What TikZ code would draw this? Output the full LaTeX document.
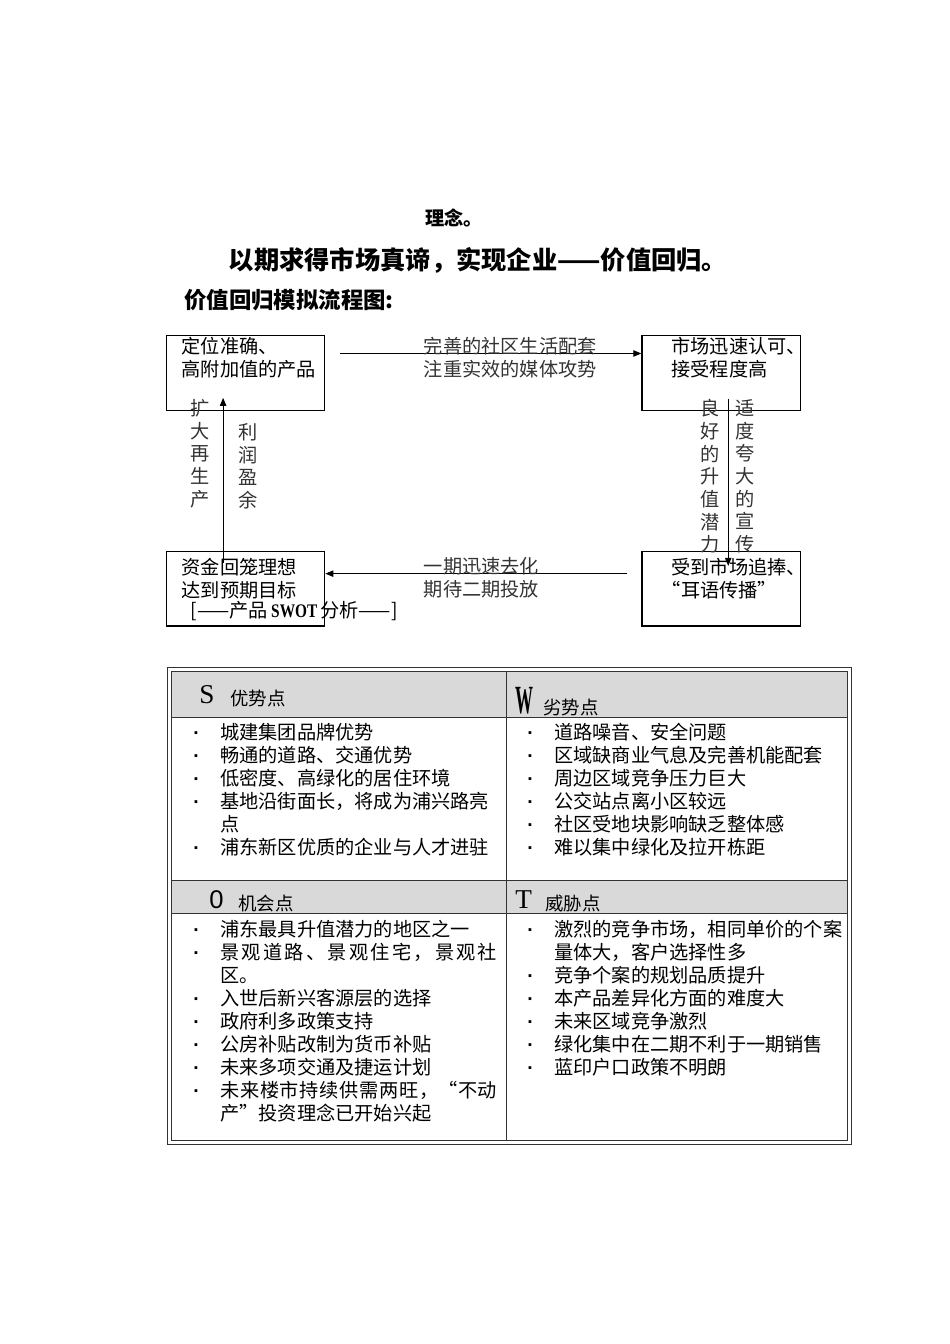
\documentclass[tikz,border=0pt]{standalone}
\usepackage{fontspec}
\usepackage{graphicx}
\setmainfont{Liberation Serif}
\newfontfamily\cjk{Noto Sans CJK SC}
\newfontfamily\latsans{Liberation Sans}
\usetikzlibrary{arrows.meta,positioning}
% bullet and hanging indent of the SWOT lists
\newcommand{\bul}{\makebox[16.9pt][l]{{\latsans\bfseries ·}}}
\newcommand{\ind}{\hspace*{16.9pt}}

\begin{document}
\begin{tikzpicture}[
  x=0.625pt,y=-0.625pt,
  box/.style={draw,line width=0.8pt,minimum width=99pt,minimum height=46.5pt,inner sep=0},
  boxtxt/.style={anchor=north west,align=left,inner sep=0,font=\cjk\fontsize{12}{14.4}\selectfont},
  lbl/.style={align=left,inner sep=0,text=black!80,font=\cjk\fontsize{12}{14.4}\selectfont},
  vlbl/.style={anchor=north,align=center,inner sep=0,text=black!80,font=\cjk\fontsize{12}{14.2}\selectfont},
  arrow/.style={-{Triangle[length=5pt,width=4pt]},line width=0.6pt},
  item/.style={anchor=base west,inner sep=0,font=\cjk\fontsize{12}{14.4}\selectfont},
  head/.style={anchor=base west,inner sep=0,font=\cjk\fontsize{11.5}{14}\selectfont},
  letter/.style={anchor=base west,inner sep=0},
  grid/.style={line width=0.6pt,draw=black!80},
  headfill/.style={fill=black!15}
]
  \useasboundingbox (0,0) rectangle (950,1344);

  % titles
  \node[font=\cjk\bfseries\fontsize{12}{14}\selectfont] (idea) at (454,218) {理念。};
  \node[font=\cjk\bfseries\fontsize{15.8}{18}\selectfont] (motto) at (478,260) {以期求得市场真谛，实现企业——价值回归。};
  \node[anchor=west,inner sep=0,font=\cjk\bfseries\fontsize{14}{16}\selectfont] (flowtitle) at (184,300) {价值回归模拟流程图:};

  % flow chart
  \node[box] (prod) at (245.5,373) {};
  \node[box,right=197.5pt of prod] (accept) {};
  \node[box,below=87.5pt of prod] (fund) {};
  \node[box,below=87.5pt of accept] (pursue) {};

  \node[boxtxt] (prodtxt) at ([xshift=9.8pt,yshift=-1.2pt]prod.north west) {定位准确、\\高附加值的产品};
  \node[boxtxt] (accepttxt) at ([xshift=18.7pt,yshift=-1.2pt]accept.north west) {市场迅速认可、\\接受程度高};
  \node[boxtxt] (fundtxt) at ([xshift=9.8pt,yshift=-4.4pt]fund.north west) {资金回笼理想\\达到预期目标};
  \node[boxtxt] (pursuetxt) at ([xshift=18.7pt,yshift=-4.4pt]pursue.north west) {受到市场追捧、\\\hspace*{-6pt}“耳语传播”};
  \node[anchor=west,inner sep=0,font=\cjk\fontsize{12}{14}\selectfont] (swottitle) at ([xshift=15.6pt,yshift=-14.1pt]fund.west) {[——产品\,{\rmfamily\bfseries\scalebox{0.8}[1]{SWOT}}\,分析——]};

  \draw[arrow] ([xshift=9.4pt,yshift=12.2pt]prod.east) -- node[lbl,pos=0.276,anchor=north west,yshift=10.6pt] (toplbl) {完善的社区生活配套\\注重实效的媒体攻势} ([yshift=12.2pt]accept.west);
  \draw[arrow] ([xshift=4.4pt,yshift=7.5pt]accept.south) -- ([xshift=4.4pt,yshift=-9.4pt]pursue.north);
  \draw[arrow] ([xshift=-8.75pt,yshift=9.4pt]pursue.west) -- node[lbl,pos=0.675,anchor=north west,yshift=10.6pt] (botlbl) {一期迅速去化\\期待二期投放} ([yshift=9.4pt]fund.east);
  \draw[arrow] ([xshift=-14pt,yshift=-7.5pt]fund.north) -- ([xshift=-14pt,yshift=8.1pt]prod.south);

  \node[vlbl] (expand) at (200,399) {扩\\大\\再\\生\\产};
  \node[vlbl] (profit) at (248,423) {利\\润\\盈\\余};
  \node[vlbl] (potential) at (710,399) {良\\好\\的\\升\\值\\潜\\力};
  \node[vlbl] (hype) at (745,399) {适\\度\\夸\\大\\的\\宣\\传};

  % SWOT table
  \draw[grid] (167.5,667.5) rectangle (851,1144);
  \fill[headfill] (171,671) rectangle (847.5,717);
  \fill[headfill] (171,880) rectangle (847.5,913);
  \draw[grid] (171,671) rectangle (847.5,1140.5);
  \draw[grid] (171,717) -- (847.5,717);
  \draw[grid] (171,880) -- (847.5,880);
  \draw[grid] (171,913) -- (847.5,913);
  \draw[grid] (506,671) -- (506,1140.5);

  \node[letter,font=\fontsize{17}{17}\selectfont] (sletter) at (199,703) {S};
  \node[head] (shead) at (230,705) {优势点};
  \node[letter] (wletter) at (515,713) {\scalebox{0.45}[1]{\fontsize{25}{25}\selectfont\bfseries W}};
  \node[head] (whead) at (543,714) {劣势点};
  \node[letter,font=\latsans\fontsize{16}{16}\selectfont] (oletter) at (209,908) {0};
  \node[head] (ohead) at (238,910) {机会点};
  \node[letter,font=\fontsize{17}{17}\selectfont] (tletter) at (515,908) {T};
  \node[head] (thead) at (545,910) {威胁点};

  \foreach \t [count=\i] in {\bul 城建集团品牌优势, \bul 畅通的道路、交通优势, \bul 低密度、高绿化的居住环境,
      \bul 基地沿街面长，将成为浦兴路亮, \ind 点, \bul 浦东新区优质的企业与人才进驻}
    \node[item] (s\i) at (193,{739+23*(\i-1)}) {\t};
  \foreach \t [count=\i] in {\bul 道路噪音、安全问题, \bul 区域缺商业气息及完善机能配套, \bul 周边区域竞争压力巨大,
      \bul 公交站点离小区较远, \bul 社区受地块影响缺乏整体感, \bul 难以集中绿化及拉开栋距}
    \node[item] (w\i) at (527,{739+23*(\i-1)}) {\t};
  \foreach \t [count=\i] in {\bul 浦东最具升值潜力的地区之一,
      {\bul\hbox to 173pt{景\hfil 观\hfil 道\hfil 路\hfil 、\hfil 景\hfil 观\hfil 住\hfil 宅\hfil ，\hfil 景\hfil 观\hfil 社}}, \ind 区。,
      \bul 入世后新兴客源层的选择, \bul 政府利多政策支持, \bul 公房补贴改制为货币补贴, \bul 未来多项交通及捷运计划,
      {\bul\hbox to 173pt{未\hfil 来\hfil 楼\hfil 市\hfil 持\hfil 续\hfil 供\hfil 需\hfil 两\hfil 旺\hfil ，\hfil “不\hfil 动}}, \ind 产”投资理念已开始兴起}
    \node[item] (o\i) at (193,{936+23*(\i-1)}) {\t};
  \foreach \t [count=\i] in {\bul 激烈的竞争市场，相同单价的个案, \ind 量体大，客户选择性多, \bul 竞争个案的规划品质提升,
      \bul 本产品差异化方面的难度大, \bul 未来区域竞争激烈, \bul 绿化集中在二期不利于一期销售, \bul 蓝印户口政策不明朗}
    \node[item] (t\i) at (527,{936+23*(\i-1)}) {\t};
\end{tikzpicture}
\end{document}
